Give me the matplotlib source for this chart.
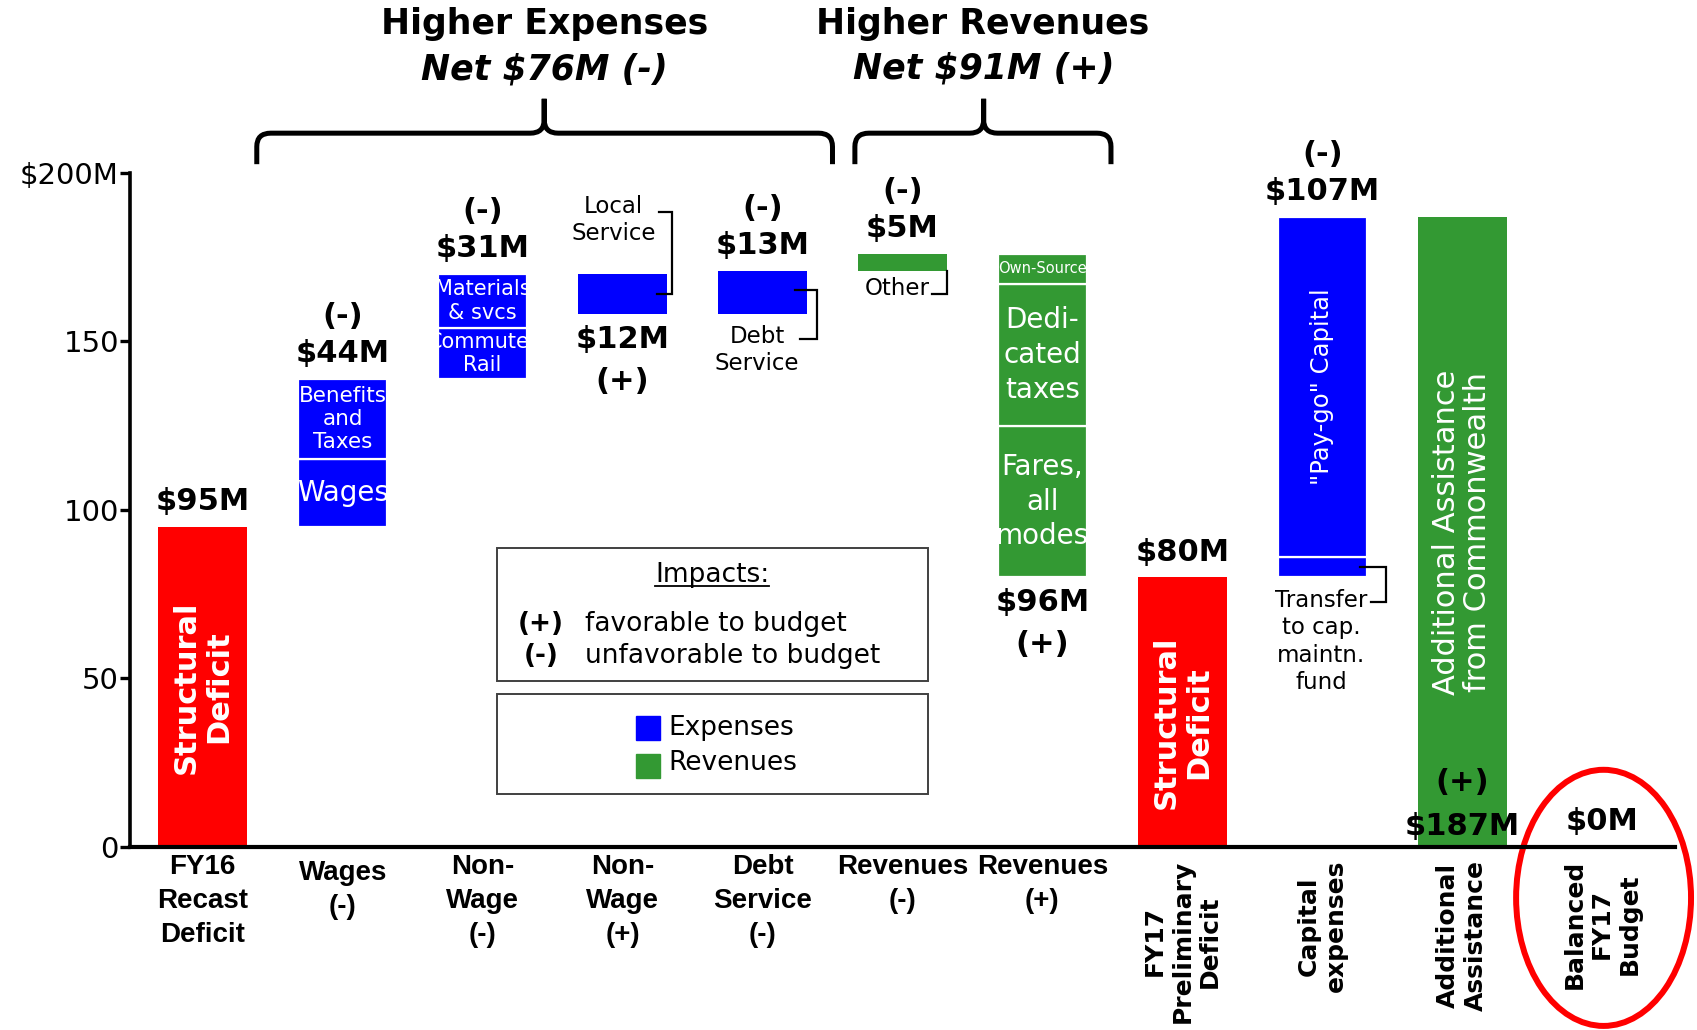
import numpy as np
import matplotlib.pyplot as plt
from matplotlib.patches import Rectangle, Ellipse, PathPatch
from matplotlib.path import Path
import matplotlib.transforms as mtransforms

# ---- data ($M) ----
categories = ['FY16\nRecast\nDeficit', 'Wages\n(-)', 'Non-\nWage\n(-)', 'Non-\nWage\n(+)',
              'Debt\nService\n(-)', 'Revenues\n(-)', 'Revenues\n(+)',
              'FY17\nPreliminary\nDeficit', 'Capital\nexpenses', 'Additional\nAssistance',
              'Balanced\nFY17\nBudget']
# change to the deficit at each step (positive = deficit grows)
steps = [95, 44, 31, -12, 13, 5, -96, 0, 107, -187, 0]
kinds = ['total', 'exp', 'exp', 'exp', 'exp', 'rev', 'rev', 'total', 'exp', 'rev', 'total']
amounts = [95, 44, 31, 12, 13, 5, 96, 80, 107, 187, 0]
signs = ['', '(-)', '(-)', '(+)', '(-)', '(-)', '(+)', '', '(-)', '(+)', '']
label_pos = ['top', 'top', 'top', 'below', 'top', 'top', 'below', 'top', 'top', 'inside', 'top']
rotated_label = [False] * 7 + [True] * 4

wages_parts = [20, 24]
wages_names = ['Wages', 'Benefits\nand\nTaxes']
nonwage_parts = [15, 16]
nonwage_names = ['Commuter\nRail', 'Materials\n& svcs']
revenue_parts = [45, 42, 9]
revenue_names = ['Fares,\nall\nmodes', 'Dedi-\ncated\ntaxes', 'Own-Source']
capital_parts = [6, 101]
capital_names = ['', '"Pay-go" Capital']

parts = {1: (wages_parts, wages_names), 2: (nonwage_parts, nonwage_names),
         6: (revenue_parts, revenue_names), 8: (capital_parts, capital_names)}

colors = {'total': '#ff0000', 'exp': '#0000ff', 'rev': '#339933'}
seg_font = {'Wages': 20, 'Benefits\nand\nTaxes': 15.5, 'Commuter\nRail': 15,
            'Materials\n& svcs': 15, 'Fares,\nall\nmodes': 20, 'Dedi-\ncated\ntaxes': 20,
            'Own-Source': 10.5, '"Pay-go" Capital': 17.5, '': 10}

# running totals -> bar extents
level = 0
bars = []
for s, k in zip(steps, kinds):
    if k == 'total':
        level += s
        bars.append((0, level))
    else:
        lo, hi = sorted([level, level + s])
        level += s
        bars.append((lo, hi))

x = np.arange(len(categories))
W = 0.635

fig = plt.figure(figsize=(16.97, 10.30), dpi=100)
ax = fig.add_axes([0.0766, 0.1777, 0.9104, 0.6544])
ax.set_xlim(-0.52, 10.52)
ax.set_ylim(0, 200)

BOLD = dict(fontweight='bold', color='black')

for i in x:
    lo, hi = bars[i]
    if hi - lo <= 0:
        continue
    col = colors[kinds[i]]
    if i in parts:
        vals, names = parts[i]
        b = lo
        for v, name in zip(vals, names):
            r = ax.bar(i, v, W, bottom=b, color=col, edgecolor='white', linewidth=1.6)[0]
            if name:
                t = ax.text(i, b + v / 2, name, ha='center', va='center', color='white',
                            fontsize=seg_font[name], linespacing=1.3 if i == 6 else 1.2,
                            rotation=90 if 'Capital' in name else 0, clip_on=True)
                t.set_clip_path(r)
            b += v
    else:
        ax.bar(i, hi - lo, W, bottom=lo, color=col)

# value / sign labels
for i in x:
    lo, hi = bars[i]
    lab = f'${amounts[i]}M'
    if label_pos[i] == 'top':
        ax.text(i, hi + 7.5, lab, ha='center', va='center', fontsize=22, **BOLD)
        if signs[i]:
            ax.text(i, hi + 18.5, signs[i], ha='center', va='center', fontsize=22, **BOLD)
    elif label_pos[i] == 'below':
        ax.text(i, lo - 7.5, lab, ha='center', va='center', fontsize=22, **BOLD)
        ax.text(i, lo - 20, signs[i], ha='center', va='center', fontsize=22, **BOLD)
    else:
        ax.text(i, lo + 19, signs[i], ha='center', va='center', fontsize=22, **BOLD)
        ax.text(i, lo + 6, lab, ha='center', va='center', fontsize=22, **BOLD)

# text inside the total bars
ax.text(0, bars[0][1] / 2, 'Structural\nDeficit', rotation=90, ha='center', va='center',
        color='white', fontsize=22, fontweight='bold', linespacing=1.15)
ax.text(7, bars[7][1] / 2 - 3, 'Structural\nDeficit', rotation=90, ha='center', va='center',
        color='white', fontsize=22, fontweight='bold', linespacing=1.15)
ax.text(9, bars[9][1] / 2, 'Additional Assistance\nfrom Commonwealth', rotation=90,
        ha='center', va='center', color='white', fontsize=22, linespacing=1.1)

# call-outs with bracket lines
line_kw = dict(color='black', lw=1.6, clip_on=False, solid_joinstyle='miter')
ax.plot([3.243, 3.351, 3.351, 3.259], [164.0, 164.0, 188.4, 188.4], **line_kw)
ax.text(2.934, 186, 'Local\nService', ha='center', va='center', fontsize=16.5, linespacing=1.25)
ax.plot([4.232, 4.386, 4.386, 4.27], [165.3, 165.3, 150.6, 150.6], **line_kw)
ax.text(3.96, 147.5, 'Debt\nService', ha='center', va='center', fontsize=16.5, linespacing=1.25)
ax.plot([5.317, 5.317, 5.21], [171.0, 164.0, 164.0], **line_kw)
ax.text(4.965, 165.6, 'Other', ha='center', va='center', fontsize=16.5)
ax.plot([8.27, 8.456, 8.456, 8.347], [83.1, 83.1, 72.6, 72.6], **line_kw)
ax.text(7.99, 61, 'Transfer\nto cap.\nmaintn.\nfund', ha='center', va='center',
        fontsize=16.5, linespacing=1.25)


# braces and group titles
def brace(x0, x1, xm, y_low=202.6, y_line=211.8, y_tip=222.0, rx=0.1, ry=4.0):
    verts, codes = [], []
    for xe, sg in ((x0, 1), (x1, -1)):
        verts += [(xe, y_low), (xe, y_line - ry), (xe, y_line), (xe + sg * rx, y_line),
                  (xm - sg * rx, y_line), (xm, y_line), (xm, y_line + ry), (xm, y_tip)]
        codes += [Path.MOVETO, Path.LINETO, Path.CURVE3, Path.CURVE3,
                  Path.LINETO, Path.CURVE3, Path.CURVE3, Path.LINETO]
    ax.add_patch(PathPatch(Path(verts, codes), fill=False, lw=3.6, edgecolor='black',
                           clip_on=False, capstyle='butt'))


brace(0.386, 4.50, 2.44)
brace(4.66, 6.49, 5.58)
ax.text(2.44, 244.3, 'Higher Expenses', ha='center', va='center', fontsize=25, **BOLD)
ax.text(2.44, 230.8, 'Net $76M (-)', ha='center', va='center', fontsize=25,
        fontstyle='italic', **BOLD)
ax.text(5.57, 244.3, 'Higher Revenues', ha='center', va='center', fontsize=25, **BOLD)
ax.text(5.58, 231.0, 'Net $91M (+)', ha='center', va='center', fontsize=25,
        fontstyle='italic', **BOLD)

# impacts box and legend box
ax.add_patch(Rectangle((2.10, 49.1), 3.08, 39.5, fill=False, edgecolor='#404040', lw=1.4))
ax.add_patch(Rectangle((2.10, 15.7), 3.08, 29.6, fill=False, edgecolor='#404040', lw=1.4))
t_imp = ax.text(3.64, 80.8, 'Impacts:', ha='center', va='center', fontsize=19)
ax.text(2.417, 66.1, '(+)', ha='center', va='center', fontsize=19, **BOLD)
ax.text(2.734, 66.1, 'favorable to budget', ha='left', va='center', fontsize=19)
ax.text(2.417, 56.8, '(-)', ha='center', va='center', fontsize=19, **BOLD)
ax.text(2.734, 56.8, 'unfavorable to budget', ha='left', va='center', fontsize=19)
ax.add_patch(Rectangle((3.097, 31.8), 0.17, 7.0, color=colors['exp']))
ax.add_patch(Rectangle((3.097, 20.6), 0.17, 7.0, color=colors['rev']))
ax.text(3.33, 35.3, 'Expenses', ha='left', va='center', fontsize=19)
ax.text(3.33, 24.9, 'Revenues', ha='left', va='center', fontsize=19)

# axes styling
for side in ['top', 'right']:
    ax.spines[side].set_visible(False)
ax.spines['left'].set_linewidth(2.6)
ax.spines['bottom'].set_linewidth(3.0)
ax.set_yticks([0, 50, 100, 150, 200])
ax.set_yticklabels(['0', '50', '100', '150', '$200M'])
ax.tick_params(axis='y', length=7, width=2.4, labelsize=21, pad=1)
ax.set_xticks([])

# category labels
tr = mtransforms.blended_transform_factory(ax.transData, ax.transAxes)
for i, lab in enumerate(categories):
    if rotated_label[i]:
        ax.text(i, -0.019, lab, transform=tr, rotation=90, ha='center', va='top',
                multialignment='center', fontsize=18, fontweight='bold',
                linespacing=1.2, clip_on=False)
    else:
        yoff = -0.02 if lab.startswith('Wages') else -0.011
        ax.text(i, yoff, lab, transform=tr, ha='center', va='top', fontsize=20,
                fontweight='bold', family=['Liberation Sans', 'DejaVu Sans'],
                linespacing=1.38, clip_on=False)

# highlight around the balanced budget
ax.add_patch(Ellipse((10.01, -15.1), 1.25, 76, fill=False, edgecolor='#ff0000', lw=4.3,
                     clip_on=False))

# underline "Impacts:"
fig.canvas.draw()
bb = t_imp.get_window_extent(fig.canvas.get_renderer())
inv = ax.transData.inverted()
(ux0, uy), (ux1, _) = inv.transform([(bb.x0, bb.y0 + 2), (bb.x1, bb.y0 + 2)])
ax.plot([ux0, ux1], [uy, uy], color='black', lw=1.3, clip_on=False)

fig.savefig('out.png', dpi=100)
